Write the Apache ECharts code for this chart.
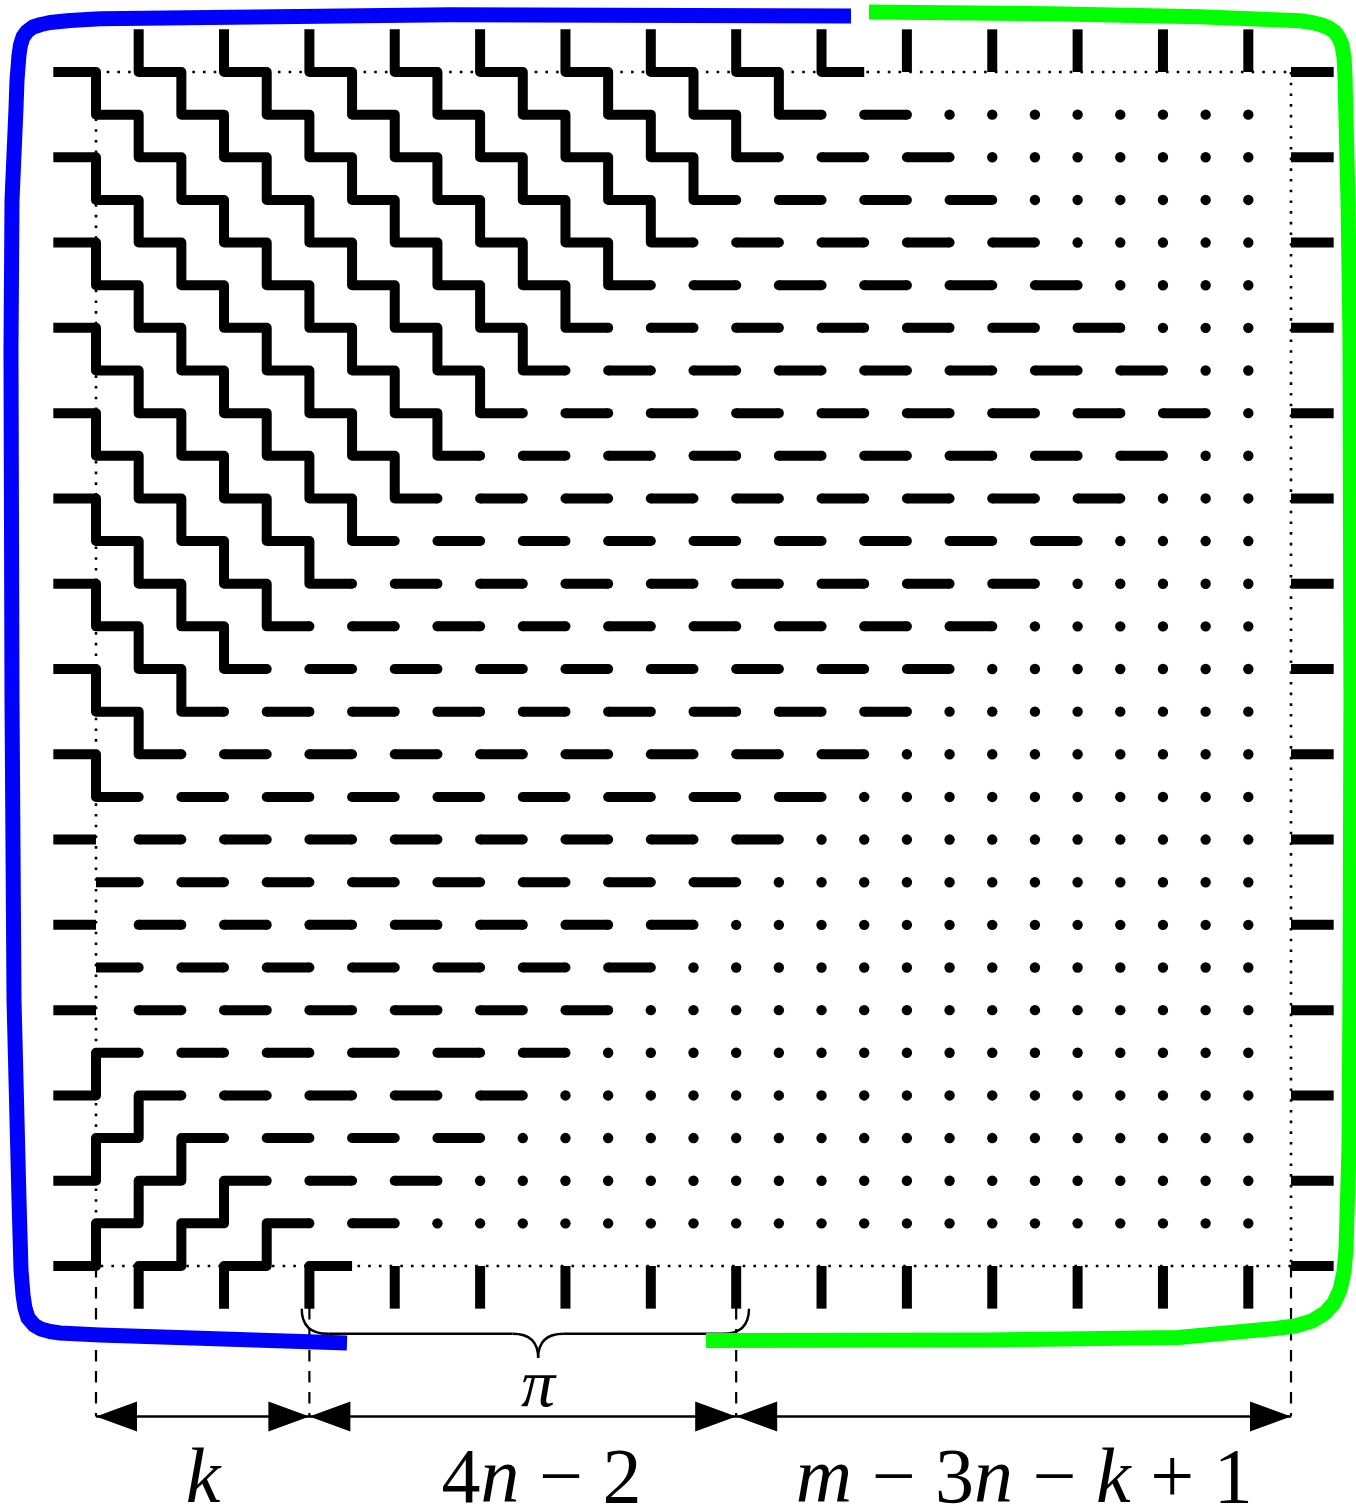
<!DOCTYPE html>
<html>
<head>
<meta charset="utf-8">
<script src="https://cdn.jsdelivr.net/npm/echarts@6/dist/echarts.min.js"></script>
<style>
html,body{margin:0;padding:0;background:#ffffff;}
#chart{width:1356px;height:1507px;}
</style>
</head>
<body>
<div id="chart"></div>
<script>
// ---------------- data (grid units: 28 x 28 cells inside the dotted frame) ----------------
const gridCells = 28;
// rows 1..27 : first column of the dot region (dots run up to lastDotCol)
const firstDotCol = [20,21,22,23,24,25,26,27,26,25,24,23,22,21,20,19,18,17,16,15,14,13,12,11,10,9,8];
const lastDotCol = 27;
// upper staircases (going down-right): last column reached in rows 0..17
const upperStepEnd = [18,17,16,15,14,13,12,11,10,9,8,7,6,5,4,3,2,1];
// lower staircases (going up-right): last column reached in rows 23..28
const lowerStepRows = [23,24,25,26,27,28];
const lowerStepEnd = [1,2,3,4,5,6];
// boundary pieces
const topTickCols = [1,3,5,7,9,11,13,15,17,19,21,23,25,27];
const bottomTickCols = [1,3,5,7,9,11,13,15,17,19,21,23,25,27];
const sideDashRows = [0,2,4,6,8,10,12,14,16,18,20,22,24,26,28];
// measurement row
const spanBreaks = [0,5,15,28];
const spanLabels = ['k','4n − 2','m − 3n − k + 1'];
const spanLabelX = [2.51,10.44,21.75];
const braceSpan = [4.82,15.30];
const braceTipX = 10.36;
const braceLabel = 'π';
// outline curves
const blueCurve = [[17.690,-1.313],[8.294,-1.344],[0.094,-1.250],[-0.609,-1.208],[-1.078,-1.161],[-1.289,-1.114],[-1.476,-1.055],[-1.617,-0.950],[-1.710,-0.821],[-1.769,-0.633],[-1.804,-0.399],[-1.851,0.188],[-1.874,0.844],[-1.968,3.002],[-1.992,6.519],[-1.968,14.727],[-1.921,21.762],[-1.804,26.452],[-1.757,28.094],[-1.710,28.680],[-1.664,28.985],[-1.593,29.219],[-1.453,29.383],[-1.289,29.477],[-1.078,29.536],[-0.843,29.571],[0.094,29.618],[5.881,29.806]];
const greenCurve = [[18.112,-1.407],[22.352,-1.367],[25.867,-1.297],[28.210,-1.201],[28.491,-1.161],[28.725,-1.102],[28.889,-1.032],[29.030,-0.938],[29.124,-0.797],[29.194,-0.633],[29.241,-0.352],[29.264,0.070],[29.335,3.002],[29.381,6.121],[29.405,14.727],[29.381,21.762],[29.358,25.280],[29.288,27.625],[29.241,28.141],[29.147,28.563],[29.007,28.867],[28.796,29.102],[28.491,29.290],[28.093,29.407],[27.624,29.466],[25.352,29.677],[20.853,29.735],[14.292,29.747]];

// ---------------- layout constants ----------------
const arrowRow = 31.53;
const braceLevel = 29.59, braceEndRow = 29.0, braceTipRow = 30.16;
const braceLabelRow = 30.86;
const spanLabelRow = 33.06;

// ---------------- build marks from the data ----------------
function upEnd(y){ return (y>=0 && y<upperStepEnd.length) ? upperStepEnd[y] : -Infinity; }
function lowEnd(y){ const k = lowerStepRows.indexOf(y); return k>=0 ? lowerStepEnd[k] : -Infinity; }
function walk(x, y, dir){
  const lim = dir > 0 ? upEnd : lowEnd;
  const pts = [[x,y],[x+1,y]];
  while (x+1 < lim(y)) { x++; y += dir; pts.push([x,y],[x+1,y]); }
  return {pts, endRow:y};
}
const strokes = [];
const dots = [];
topTickCols.forEach(c => {
  if (c+1 <= upEnd(0)) { const w = walk(c,0,1); strokes.push({pts:[[c,-1]].concat(w.pts), r0:false, r1:w.endRow!==0}); }
  else strokes.push({pts:[[c,-1],[c,0]], r0:false, r1:false});
});
bottomTickCols.forEach(c => {
  if (c+1 <= lowEnd(gridCells)) { const w = walk(c,gridCells,-1); strokes.push({pts:[[c,gridCells+1]].concat(w.pts), r0:false, r1:w.endRow!==gridCells}); }
  else strokes.push({pts:[[c,gridCells],[c,gridCells+1]], r0:false, r1:false});
});
sideDashRows.forEach(j => {
  if (0 <= upEnd(j)) { const w = walk(-1,j,1); strokes.push({pts:w.pts, r0:false, r1:w.endRow!==0}); }
  else if (0 <= lowEnd(j)) { const w = walk(-1,j,-1); strokes.push({pts:w.pts, r0:false, r1:w.endRow!==gridCells}); }
  else strokes.push({pts:[[-1,j],[0,j]], r0:false, r1:false});
  strokes.push({pts:[[gridCells,j],[gridCells+1,j]], r0:false, r1:false});
});
firstDotCol.forEach((fd, k) => {
  const j = k+1;
  for (let i = (j%2===0)?1:0; i+1 <= fd-1; i += 2) {
    if (i+1 <= upEnd(j) || i+1 <= lowEnd(j)) continue;
    strokes.push({pts:[[i,j],[i+1,j]], r0:i!==0, r1:true});
  }
  for (let i = fd; i <= lastDotCol; i++) dots.push([i,j]);
});

// ---------------- rendering ----------------
const LW = 10;
function circ(p, r){ return {type:'circle', shape:{cx:p[0], cy:p[1], r:r}, style:{fill:'#000'}}; }
function seg(a, b, style){ return {type:'line', shape:{x1:a[0],y1:a[1],x2:b[0],y2:b[1]}, style:style}; }

function buildFrame(api){
  const c = [[0,0],[gridCells,0],[gridCells,gridCells],[0,gridCells]].map(p=>api.coord(p));
  const st = {stroke:'#000', lineWidth:2.6, lineDash:[2.6,8.1], lineCap:'butt'};
  const ch = [];
  for (let k=0;k<4;k++) ch.push(seg(c[k], c[(k+1)%4], st));
  spanBreaks.forEach(x => ch.push(seg(api.coord([x,gridCells]), api.coord([x,arrowRow]), {stroke:'#000', lineWidth:2.2, lineDash:[11.5,9.5]})));
  return ch;
}
function buildTiles(api){
  const ch = [];
  strokes.forEach(s => {
    const pts = s.pts.map(p=>api.coord(p));
    ch.push({type:'polyline', shape:{points:pts}, style:{stroke:'#000', fill:'none', lineWidth:LW, lineCap:'butt', lineJoin:'round'}});
    if (s.r0) ch.push(circ(pts[0], LW/2));
    if (s.r1) ch.push(circ(pts[pts.length-1], LW/2));
  });
  dots.forEach(d => ch.push(circ(api.coord(d), 5.2)));
  return ch;
}
function buildMeasure(api){
  const ch = [];
  const a = api.coord([spanBreaks[0], arrowRow]), b = api.coord([spanBreaks[spanBreaks.length-1], arrowRow]);
  ch.push(seg(a, b, {stroke:'#000', lineWidth:2.6}));
  const L = 41, H = 15;
  for (let k=0;k<spanBreaks.length-1;k++){
    const p = api.coord([spanBreaks[k], arrowRow]), q = api.coord([spanBreaks[k+1], arrowRow]);
    ch.push({type:'polygon', shape:{points:[[p[0],p[1]],[p[0]+L,p[1]-H],[p[0]+L,p[1]+H]]}, style:{fill:'#000'}});
    ch.push({type:'polygon', shape:{points:[[q[0],q[1]],[q[0]-L,q[1]-H],[q[0]-L,q[1]+H]]}, style:{fill:'#000'}});
  }
  const P = (x,y)=>api.coord([x,y]);
  const bs = {stroke:'#000', lineWidth:2.4, fill:'none'};
  const x0 = braceSpan[0], x1 = braceSpan[1], r = 0.62;
  const quad = (s,c,e)=>{ const S=P(s[0],s[1]), C=P(c[0],c[1]), E=P(e[0],e[1]); return {type:'bezierCurve', shape:{x1:S[0],y1:S[1],cpx1:C[0],cpy1:C[1],x2:E[0],y2:E[1]}, style:bs}; };
  ch.push(quad([x0,braceEndRow],[x0,braceLevel],[x0+r,braceLevel]));
  ch.push(seg(P(x0+r,braceLevel), P(braceTipX-0.6,braceLevel), bs));
  ch.push(quad([braceTipX-0.6,braceLevel],[braceTipX,braceLevel],[braceTipX,braceTipRow]));
  ch.push(quad([braceTipX,braceTipRow],[braceTipX,braceLevel],[braceTipX+0.6,braceLevel]));
  ch.push(seg(P(braceTipX+0.6,braceLevel), P(x1-r,braceLevel), bs));
  ch.push(quad([x1-r,braceLevel],[x1,braceLevel],[x1,braceEndRow]));
  return ch;
}
function buildCurves(api){
  return [
    {type:'polyline', shape:{points:blueCurve.map(p=>api.coord(p))}, style:{stroke:'#0000ff', fill:'none', lineWidth:15, lineCap:'butt', lineJoin:'round'}},
    {type:'polyline', shape:{points:greenCurve.map(p=>api.coord(p))}, style:{stroke:'#00ff00', fill:'none', lineWidth:15, lineCap:'butt', lineJoin:'round'}}
  ];
}
const FAM = 'Liberation Serif, DejaVu Serif, serif';
function mathText(s){ return s.replace(/([a-zA-Zπ])/g, '{i|$1}').replace(/([0-9−+ ]+)/g, '{u|$1}'); }
function textEl(p, s, size){
  return {type:'text', style:{text:mathText(s), x:p[0], y:p[1], align:'center', verticalAlign:'middle', fill:'#000',
    fontSize:size, fontFamily:FAM,
    rich:{
      i:{fontStyle:'italic', fontSize:size, fontFamily:FAM, fill:'#000'},
      u:{fontStyle:'normal', fontSize:size, fontFamily:FAM, fill:'#000'}
    }}};
}
function buildLabels(api){
  const ch = spanLabels.map((s,k)=>textEl(api.coord([spanLabelX[k], spanLabelRow]), s, 78));
  ch.push(textEl(api.coord([braceTipX, braceLabelRow]), braceLabel, 68));
  return ch;
}
function layer(build, z){
  return {type:'custom', coordinateSystem:'cartesian2d', clip:false, silent:true, z:z, data:[[0,0]],
    renderItem:(params, api)=>({type:'group', children:build(api)})};
}

const chart = echarts.init(document.getElementById('chart'), null, {renderer:'canvas'});
chart.setOption({
  animation:false,
  backgroundColor:'#ffffff',
  grid:{left:96, top:72, width:1195, height:1194, show:false},
  xAxis:{type:'value', min:0, max:gridCells, show:false},
  yAxis:{type:'value', min:0, max:gridCells, inverse:true, show:false},
  series:[
    layer(buildFrame, 2),
    layer(buildTiles, 3),
    layer(buildMeasure, 4),
    layer(buildCurves, 5),
    layer(buildLabels, 6)
  ]
});
</script>
</body>
</html>
